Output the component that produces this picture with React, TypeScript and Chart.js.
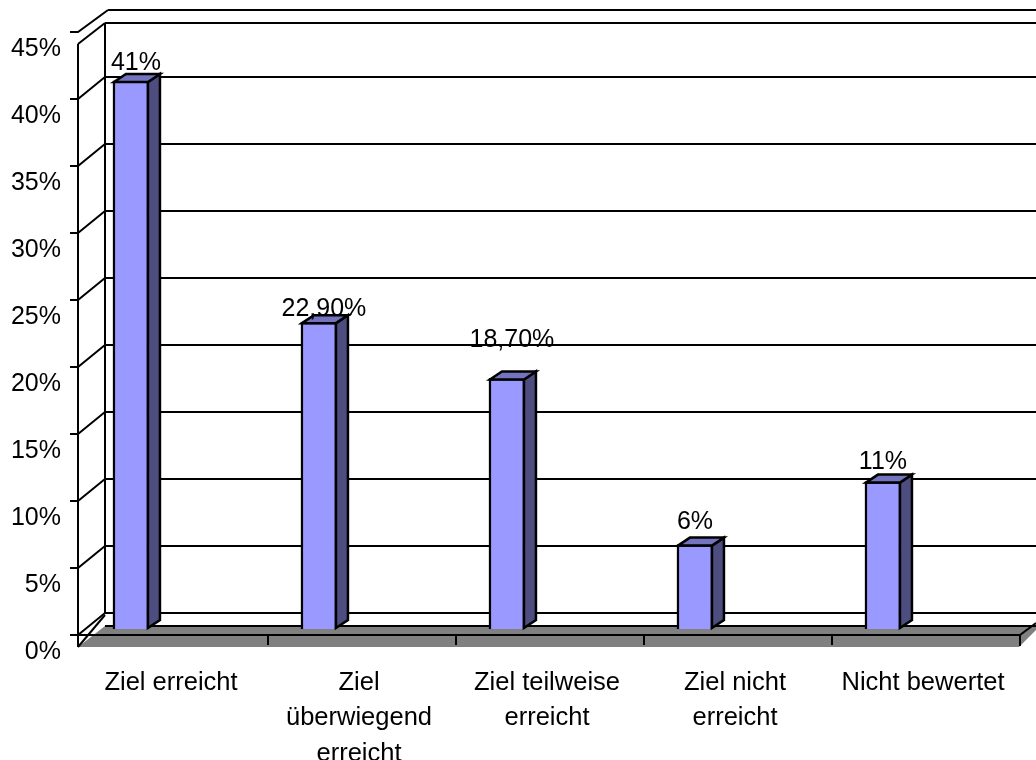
import React, { useEffect, useRef } from "react";
import { Chart, registerables } from "chart.js";

Chart.register(...registerables);

const categories: (string | string[])[] = [
  "Ziel erreicht",
  ["Ziel", "überwiegend", "erreicht"],
  ["Ziel teilweise", "erreicht"],
  ["Ziel nicht", "erreicht"],
  "Nicht bewertet",
];
const shareValues = [40.9, 22.9, 18.7, 6.3, 11];
const shareLabels = ["41%", "22,90%", "18,70%", "6%", "11%"];
const labelLift = [18, 13, 38, 22, 19];
const labelShift = [5, 5, 5, 0, 0];
const yMax = 45;
const yStep = 5;

const FONT = "'Liberation Sans', Arial, sans-serif";
const INK = "#000000";
const FLOOR = "#808080";
const FACE = "#9999FF";
const SIDE = "#4D4D80";
const TOP = "#7373BF";
const LABEL_DROP = 5;

const line = (ctx: CanvasRenderingContext2D, pts: number[][]) => {
  ctx.beginPath();
  pts.forEach((p, i) => (i ? ctx.lineTo(p[0], p[1]) : ctx.moveTo(p[0], p[1])));
  ctx.stroke();
};
const poly = (ctx: CanvasRenderingContext2D, pts: number[][], fill: string, stroke = true) => {
  ctx.beginPath();
  pts.forEach((p, i) => (i ? ctx.lineTo(p[0], p[1]) : ctx.moveTo(p[0], p[1])));
  ctx.closePath();
  ctx.fillStyle = fill;
  ctx.fill();
  if (stroke) ctx.stroke();
};

const frame3d = {
  id: "frame3d",
  beforeDatasetsDraw(chart: any) {
    const { ctx, chartArea: a, scales, width } = chart;
    const y = scales.y;
    const x = scales.x;
    const front = (v: number) => y.getPixelForValue(v) - LABEL_DROP;
    const left = a.left - 2;
    const bottom = a.bottom - LABEL_DROP;
    const wall = left + 27;
    ctx.save();
    ctx.lineCap = "butt";
    ctx.strokeStyle = INK;
    ctx.lineWidth = 2;

    poly(
      ctx,
      [
        [left, bottom],
        [wall, bottom - 21],
        [width, bottom - 21],
        [width, bottom - 17],
        [a.right - 1, bottom],
      ],
      FLOOR,
      false,
    );

    line(ctx, [[wall, front(yMax) - 21], [wall, bottom - 34]]);
    line(ctx, [[wall, front(yMax) - 21], [width, front(yMax) - 21]]);
    for (let v = 0; v <= yMax; v += yStep) {
      const py = front(v);
      line(ctx, [[wall + (v === yMax ? 3 : 0), py - 34], [width, py - 34]]);
      line(ctx, [[left - 8, py - 12], [left, py - 12], [wall + (v === yMax ? 3 : 0), py - 34]]);
    }
    line(ctx, [[wall, bottom - 21], [width, bottom - 21]]);
    line(ctx, [[left, front(yMax)], [left, bottom]]);
    line(ctx, [[left, front(yMax)], [wall, front(yMax) - 21]]);
    line(ctx, [[left, bottom], [wall, bottom - 32]]);
    line(ctx, [[left, bottom - 12], [a.right, bottom - 12], [a.right, bottom - 1]]);
    line(ctx, [[a.right, bottom - 12], [width, bottom - 24]]);
    x.ticks.forEach((_: any, i: number) => {
      const px = x.getPixelForTick(i) - x.width / x.ticks.length / 2;
      if (i > 0) line(ctx, [[px, bottom - 12], [px, bottom - 2]]);
    });
    ctx.restore();
  },
  afterDatasetsDraw(chart: any) {
    const { ctx } = chart;
    const meta = chart.getDatasetMeta(0);
    const dx = 12;
    const dy = 8;
    ctx.save();
    ctx.strokeStyle = INK;
    ctx.lineWidth = 2.5;
    ctx.lineJoin = "miter";
    meta.data.forEach((bar: any, i: number) => {
      const l = bar.x - bar.width / 2 + 1;
      const r = bar.x + bar.width / 2 - 1;
      const t = bar.y + 1;
      const b = bar.base - 1;
      poly(ctx, [[r, t], [r + dx, t - dy], [r + dx, b - dy], [r, b]], SIDE);
      poly(ctx, [[l, t], [l + dx, t - dy], [r + dx, t - dy], [r, t]], TOP);
      ctx.fillStyle = INK;
      ctx.font = `25px ${FONT}`;
      ctx.textAlign = "center";
      ctx.textBaseline = "middle";
      ctx.fillText(shareLabels[i], bar.x + labelShift[i], bar.y - labelLift[i]);
    });
    ctx.restore();
  },
};

export default function App() {
  const ref = useRef<HTMLCanvasElement>(null);
  useEffect(() => {
    if (!ref.current) return;
    const chart = new Chart(ref.current, {
      type: "bar",
      data: {
        datasets: [
          {
            label: "Anteil",
            data: shareValues.map((v, i) => ({ x: i, y: v })),
            xAxisID: "xBar",
            yAxisID: "yBar",
            backgroundColor: FACE,
            borderColor: INK,
            borderWidth: 2.5,
            barThickness: 36,
          },
        ],
      },
      options: {
        animation: false,
        responsive: false,
        devicePixelRatio: 1,
        layout: { padding: { top: 49, right: 16, left: 0, bottom: 0 } },
        plugins: { legend: { display: false }, title: { display: false }, tooltip: { enabled: false } },
        scales: {
          x: {
            type: "category",
            labels: categories as any,
            position: "bottom",
            offset: true,
            grid: { display: false, drawTicks: false },
            border: { display: false },
            afterFit: (s: any) => {
              s.height = 108;
            },
            ticks: {
              color: INK,
              autoSkip: false,
              maxRotation: 0,
              minRotation: 0,
              padding: 13,
              labelOffset: -3,
              font: { family: FONT, size: 25.5, lineHeight: 1.392 },
            },
          },
          xBar: { type: "linear", display: false, min: -0.271, max: 4.729, offset: false },
          y: {
            type: "linear",
            position: "left",
            min: 0,
            max: yMax,
            grid: { display: false, drawTicks: false },
            border: { display: false },
            afterFit: (s: any) => {
              s.width = 80;
            },
            ticks: {
              color: INK,
              stepSize: yStep,
              padding: 19,
              font: { family: FONT, size: 25 },
              callback: (v: any) => `${v}%`,
            },
          },
          yBar: { type: "linear", display: false, min: -1.716, max: 43.284 },
        },
      },
      plugins: [frame3d],
    } as any);
    return () => chart.destroy();
  }, []);
  return (
    <div style={{ position: "fixed", left: 0, top: 0, width: 1036, height: 760, background: "#fff" }}>
      <canvas ref={ref} width={1036} height={760} style={{ display: "block", width: 1036, height: 760 }} />
    </div>
  );
}
